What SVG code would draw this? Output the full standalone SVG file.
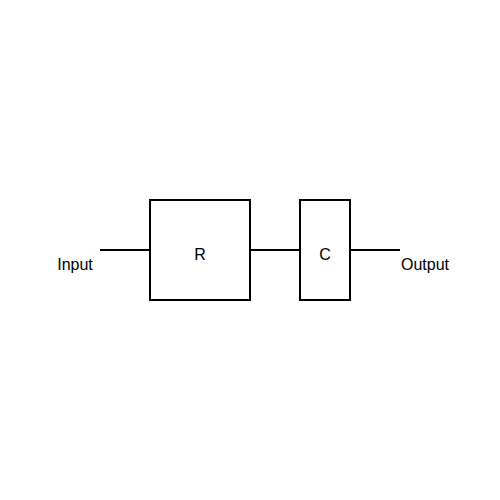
<svg xmlns="http://www.w3.org/2000/svg" width="500" height="500" viewBox="0 0 500 500">
<style>
.box{fill:#fff;stroke:#000;stroke-width:2}
.wire{stroke:#000;stroke-width:2;fill:none}
text{font-family:"Liberation Sans",Arial,sans-serif;font-size:16px;fill:#000;text-anchor:middle}
</style>
<rect width="500" height="500" fill="#fff"/>
<g id="connectors">
<line class="wire" x1="100" y1="250" x2="150" y2="250"/>
<line class="wire" x1="250" y1="250" x2="300" y2="250"/>
<line class="wire" x1="350" y1="250" x2="400" y2="250"/>
</g>
<g id="input"><text x="75" y="270">Input</text></g>
<g id="R"><rect class="box" x="150" y="200" width="100" height="100"/><text x="200" y="260">R</text></g>
<g id="C"><rect class="box" x="300" y="200" width="50" height="100"/><text x="325" y="260">C</text></g>
<g id="output"><text x="425" y="270">Output</text></g>
</svg>
